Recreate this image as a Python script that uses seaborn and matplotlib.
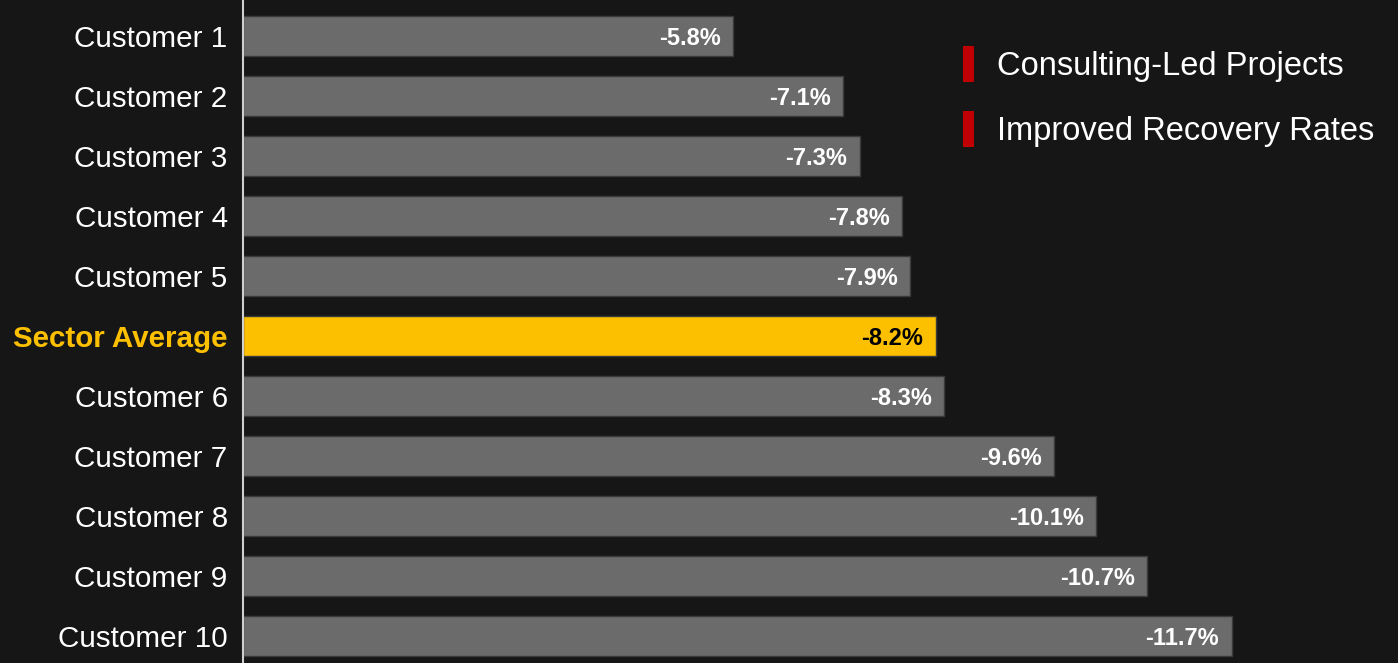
import pandas as pd
import matplotlib.pyplot as plt
import seaborn as sns
from matplotlib.patches import Patch

# data
names = ['Customer 1', 'Customer 2', 'Customer 3', 'Customer 4', 'Customer 5',
         'Sector Average', 'Customer 6', 'Customer 7', 'Customer 8', 'Customer 9',
         'Customer 10']
change = [-5.8, -7.1, -7.3, -7.8, -7.9, -8.2, -8.3, -9.6, -10.1, -10.7, -11.7]
legend_items = ['Consulting-Led Projects', 'Improved Recovery Rates']

bg = '#161616'
grey = '#6b6b6b'
gold = '#fcc000'

df = pd.DataFrame({'name': names, 'change': change})
df['kind'] = ['avg' if n == 'Sector Average' else 'cust' for n in names]

sns.set_style('dark')
plt.rcParams['font.family'] = ['Liberation Sans', 'DejaVu Sans']

fig = plt.figure(figsize=(13.98, 6.63), dpi=100, facecolor=bg)
ax = fig.add_axes([243 / 1398, 0, 1 - 243 / 1398, 1])
ax.set_facecolor(bg)

sns.barplot(data=df, y='name', x='change', hue='kind',
            palette={'cust': grey, 'avg': gold}, order=names, saturation=1,
            width=0.667, dodge=False, legend=False, ax=ax,
            edgecolor='#3a3a3a', linewidth=1.0)

# bars go to the right, values are negative
ax.set_xlim(0, -13.67)
ax.set_ylim(10.45, -0.6)

for i, (n, v) in enumerate(zip(names, change)):
    col = 'black' if n == 'Sector Average' else 'white'
    ax.annotate(f'{v:.1f}%', xy=(v, i), xytext=(-9, -1.5), textcoords='offset points',
                ha='right', va='center', fontsize=17, fontweight='bold', color=col)

ax.set_yticks(range(len(names)))
ax.set_yticklabels(names, fontsize=21.3, color='white')
for lab in ax.get_yticklabels():
    if lab.get_text() == 'Sector Average':
        lab.set_color(gold)
        lab.set_fontweight('bold')
ax.tick_params(axis='y', length=0, pad=11)
ax.set_xticks([])
ax.set_xlabel('')
ax.set_ylabel('')
ax.grid(False)

for s in ['top', 'right', 'bottom']:
    ax.spines[s].set_visible(False)
ax.spines['left'].set_visible(True)
ax.spines['left'].set_color('#d0d0d0')
ax.spines['left'].set_linewidth(1.5)

handles = [Patch(facecolor='#c00000', edgecolor='none') for _ in legend_items]
leg = ax.legend(handles, legend_items, loc='upper left',
                bbox_to_anchor=((950 - 243) / (1398 - 243), 1 - 33 / 663),
                frameon=False, fontsize=23.5, labelcolor='white',
                handlelength=0.35, handleheight=1.3, handletextpad=0.68,
                labelspacing=0.9, borderaxespad=0)

fig.savefig('out.png', dpi=100, facecolor=bg)
